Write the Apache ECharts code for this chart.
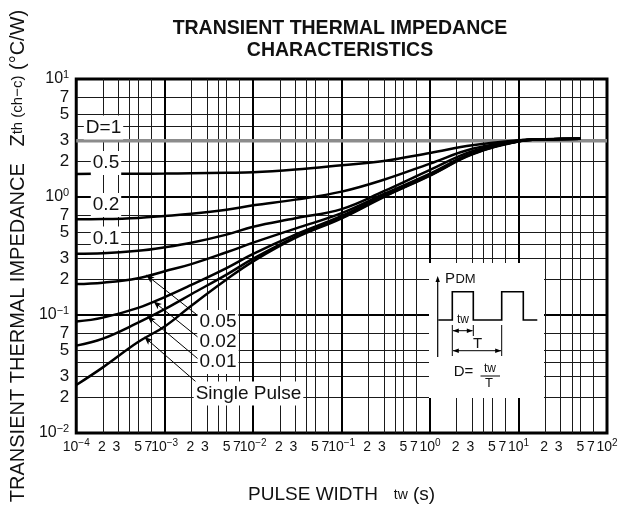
<!DOCTYPE html>
<html>
<head>
<meta charset="utf-8">
<script src="https://cdn.jsdelivr.net/npm/echarts@6/dist/echarts.min.js"></script>
<style>
html, body { margin: 0; padding: 0; background: #fff; }
#main { width: 630px; height: 511px; }
</style>
</head>
<body>
<div id="main"></div>
<script>
// pulse width (s) sample points
var pulseWidth = [1e-4, 2e-4, 5e-4, 1e-3, 2e-3, 5e-3, 1e-2, 3e-2, 1e-1, 3e-1, 1, 3, 10, 20, 50];
// Zth (degC/W) for each duty cycle
var zD05   = [1.57, 1.572, 1.575, 1.58, 1.59, 1.605, 1.62, 1.71, 1.86, 2.02, 2.36, 2.74, 3.02, 3.09, 3.12];
var zD02   = [0.647, 0.65, 0.665, 0.69, 0.72, 0.78, 0.85, 0.95, 1.11, 1.40, 1.92, 2.56, 3.0, 3.09, 3.12];
var zD01   = [0.33, 0.333, 0.35, 0.375, 0.41, 0.48, 0.56, 0.66, 0.79, 1.12, 1.70, 2.45, 2.98, 3.08, 3.12];
var zD005  = [0.183, 0.188, 0.205, 0.235, 0.27, 0.34, 0.41, 0.54, 0.73, 1.06, 1.58, 2.36, 2.97, 3.08, 3.12];
var zD002  = [0.088, 0.095, 0.115, 0.142, 0.18, 0.25, 0.33, 0.48, 0.69, 1.03, 1.55, 2.33, 2.96, 3.08, 3.12];
var zD001  = [0.055, 0.063, 0.086, 0.112, 0.15, 0.22, 0.30, 0.46, 0.67, 1.01, 1.53, 2.32, 2.96, 3.08, 3.12];
var zSingle = [0.0255, 0.036, 0.059, 0.08, 0.12, 0.20, 0.285, 0.45, 0.66, 1.0, 1.52, 2.30, 2.95, 3.08, 3.12];
var zD1 = 3.0;

// axis decades and grid mantissas
var xDecades = [1e-4, 1e-3, 1e-2, 1e-1, 1, 10, 100];
var yDecades = [1e-2, 1e-1, 1, 10];
var gridMantissa = [2, 3, 4, 5, 7];
var labelMantissa = [2, 3, 5, 7];

// leader lines for the small-duty labels: [curve point, label point]
var leaderCurve = [[6.2e-4, 0.218], [7.5e-4, 0.13], [6.4e-4, 0.097], [5.9e-4, 0.065]];
var leaderLabel = [[2.46e-3, 0.0968], [2.46e-3, 0.0635], [2.46e-3, 0.0416], [2.25e-3, 0.0272]];

var lg = Math.log10;
var FONT = "'Liberation Sans', Arial, sans-serif";

function majors(dec) { return dec.map(lg); }
function minors(dec, mant) {
    var out = [];
    for (var i = 0; i < dec.length - 1; i++) {
        mant.forEach(function (m) { out.push(lg(dec[i] * m)); });
    }
    return out;
}
function fmtTick(v) {
    var e = Math.round(v);
    if (Math.abs(v - e) < 1e-6) return '{b|10}{s|' + (e < 0 ? '\u2212' + (-e) : e) + '}';
    var m = Math.round(Math.pow(10, v - Math.floor(v)));
    return '{m' + m + '|' + m + '}';
}
function pts(z) {
    return pulseWidth.map(function (t, i) { return [lg(t), lg(z[i])]; });
}
function curve(name, z, extra) {
    var s = {
        name: name, type: 'line', data: pts(z), smooth: 0.4,
        showSymbol: false, silent: true, z: 5,
        lineStyle: { color: '#000', width: 2.5 }
    };
    return Object.assign(s, extra || {});
}
function digit(size, lh, shift) {
    return { fontSize: size, lineHeight: lh, fontFamily: FONT, color: '#111', padding: [0, shift || 0, 0, 0] };
}

var leaders = leaderCurve.map(function (p, i) {
    return [
        { coord: [lg(p[0]), lg(p[1])], symbol: 'arrow', symbolSize: [5, 8] },
        { coord: [lg(leaderLabel[i][0]), lg(leaderLabel[i][1])], symbol: 'none' }
    ];
});

function txt(text, x, y, size, extra) {
    return {
        type: 'text', z: 100, x: x, y: y,
        style: Object.assign({
            text: text, fill: '#111', font: size + 'px ' + FONT,
            textAlign: 'center', textVerticalAlign: 'middle'
        }, extra || {})
    };
}
function line(x1, y1, x2, y2, w) {
    return { type: 'line', z: 101, shape: { x1: x1, y1: y1, x2: x2, y2: y2 },
             style: { stroke: '#000', lineWidth: w || 1 } };
}
function head(x, y, dir) {
    // small filled arrowhead, dir: 'l', 'r', 'u'
    var p;
    if (dir === 'l') p = [[x, y], [x + 6, y - 2.2], [x + 6, y + 2.2]];
    else if (dir === 'r') p = [[x, y], [x - 6, y - 2.2], [x - 6, y + 2.2]];
    else p = [[x, y], [x - 2.2, y + 6], [x + 2.2, y + 6]];
    return { type: 'polygon', z: 101, shape: { points: p }, style: { fill: '#000' } };
}

var bg = { backgroundColor: '#fff', padding: [3, 2, 2, 2] };

var xRichMajor = {
    b: digit(14, 18),
    s: { fontSize: 10, lineHeight: 12, verticalAlign: 'top', fontFamily: FONT, color: '#111' }
};
var xRichMinor = { m2: digit(14, 18, 2), m3: digit(14, 18, 4), m5: digit(14, 18, 0), m7: digit(14, 18, 5) };
var yRich = {
    b: digit(16, 20),
    s: { fontSize: 11, lineHeight: 12, verticalAlign: 'top', fontFamily: FONT, color: '#111' },
    m2: digit(17, 20), m3: digit(17, 20), m5: digit(17, 20), m7: digit(17, 20)
};

var myChart = echarts.init(document.getElementById('main'));

var option = {
    animation: false,
    title: {
        text: 'TRANSIENT THERMAL IMPEDANCE\nCHARACTERISTICS',
        left: 340, top: 18, padding: 0, textAlign: 'center',
        textStyle: { fontFamily: FONT, fontWeight: 'bold', fontSize: 19.5, lineHeight: 22, color: '#111' }
    },
    grid: {
        left: 73, top: 79, width: 534, height: 354,
        show: true, borderColor: '#000', borderWidth: 3, backgroundColor: '#fff'
    },
    xAxis: [{
        type: 'value', min: lg(1e-4), max: lg(100), position: 'bottom',
        axisLine: { show: false },
        axisTick: { show: false, customValues: majors(xDecades) },
        splitLine: { show: true, lineStyle: { color: '#000', width: 2 } },
        axisLabel: {
            customValues: majors(xDecades), formatter: fmtTick, margin: 5,
            showMinLabel: true, showMaxLabel: true,
            color: '#111', fontFamily: FONT, rich: xRichMajor
        },
        name: '{a|PULSE WIDTH   }{s|tw}{a| (s)}',
        nameLocation: 'middle', nameGap: 51,
        nameTextStyle: {
            rich: {
                a: { fontSize: 19, fontFamily: FONT, color: '#111', lineHeight: 22 },
                s: { fontSize: 14, fontFamily: FONT, color: '#111', lineHeight: 22 }
            }
        }
    }, {
        type: 'value', min: lg(1e-4), max: lg(100), position: 'bottom',
        axisLine: { show: false },
        axisTick: { show: false, customValues: minors(xDecades, gridMantissa) },
        splitLine: { show: true, lineStyle: { color: '#1a1a1a', width: 1 } },
        axisLabel: {
            customValues: minors(xDecades, labelMantissa), formatter: fmtTick, margin: 5,
            showMinLabel: true, showMaxLabel: true,
            color: '#111', fontFamily: FONT, rich: xRichMinor
        }
    }],
    yAxis: [{
        type: 'value', min: lg(1e-2), max: lg(10), position: 'left',
        axisLine: { show: false },
        axisTick: { show: false, customValues: majors(yDecades) },
        splitLine: { show: true, lineStyle: { color: '#000', width: 2 } },
        axisLabel: {
            customValues: majors(yDecades).concat(minors(yDecades, labelMantissa)),
            formatter: fmtTick, margin: 7,
            showMinLabel: true, showMaxLabel: true,
            color: '#111', fontFamily: FONT, rich: yRich
        },
        name: '{a|TRANSIENT THERMAL IMPEDANCE   Z}{s|th (ch\u2212c)}{a| (\u00b0C/W)}',
        nameLocation: 'middle', nameRotate: 90, nameGap: 44,
        nameTextStyle: {
            rich: {
                a: { fontSize: 20, fontFamily: FONT, color: '#111', lineHeight: 22 },
                s: { fontSize: 15, fontFamily: FONT, color: '#111', lineHeight: 22 }
            }
        }
    }, {
        type: 'value', min: lg(1e-2), max: lg(10), position: 'left',
        axisLine: { show: false },
        axisTick: { show: false, customValues: minors(yDecades, gridMantissa) },
        splitLine: { show: true, lineStyle: { color: '#1a1a1a', width: 1 } },
        axisLabel: { show: false }
    }],
    series: [
        {
            name: 'D=1', type: 'line', silent: true, showSymbol: false, z: 4,
            data: [[lg(1e-4), lg(zD1)], [lg(100), lg(zD1)]],
            lineStyle: { color: '#8c8c8c', width: 3.5 }
        },
        curve('0.5', zD05),
        curve('0.2', zD02),
        curve('0.1', zD01),
        curve('0.05', zD005),
        curve('0.02', zD002),
        curve('0.01', zD001),
        curve('Single Pulse', zSingle, {
            markLine: {
                silent: true, animation: false, symbol: ['arrow', 'none'],
                label: { show: false },
                lineStyle: { color: '#000', width: 1, type: 'solid' },
                emphasis: { disabled: true },
                data: leaders
            }
        })
    ],
    graphic: [
        txt('D=1', 103.5, 127.5, 19, bg),
        txt('0.5', 106, 163, 19, bg),
        txt('0.2', 106, 205, 19, bg),
        txt('0.1', 106, 238.5, 19, bg),
        txt('0.05', 218, 322, 19, bg),
        txt('0.02', 218, 342, 19, bg),
        txt('0.01', 218, 362, 19, bg),
        txt('Single Pulse', 248.5, 393.5, 19, bg),
        // inset: pulse train definition
        { type: 'rect', z: 99, shape: { x: 429, y: 263, width: 115, height: 135 }, style: { fill: '#fff' } },
        line(437.7, 357, 437.7, 280, 1.2),
        head(437.7, 276, 'u'),
        txt('P', 450, 278.5, 15),
        txt('DM', 465.5, 279.8, 13),
        {
            type: 'polyline', z: 101,
            shape: { points: [[438.3, 320], [452.3, 320], [452.3, 291.7], [473.3, 291.7], [473.3, 320],
                              [501.7, 320], [501.7, 291.7], [523.3, 291.7], [523.3, 320], [537.3, 320]] },
            style: { stroke: '#000', lineWidth: 1.6, fill: null }
        },
        txt('tw', 463, 320, 12),
        line(452.3, 325, 452.3, 356, 1),
        line(473.3, 325, 473.3, 336, 1),
        line(501.7, 325, 501.7, 356, 1),
        line(453, 330.7, 472.5, 330.7, 1),
        head(452.8, 330.7, 'l'), head(472.8, 330.7, 'r'),
        line(453, 350.7, 501, 350.7, 1),
        head(452.8, 350.7, 'l'), head(501.2, 350.7, 'r'),
        txt('T', 477.5, 343.5, 15),
        txt('D=', 463.5, 372, 15),
        txt('tw', 490, 368.5, 12),
        line(480.5, 376, 500, 376, 1),
        txt('T', 489, 383.5, 13)
    ]
};

myChart.setOption(option);
</script>
</body>
</html>
